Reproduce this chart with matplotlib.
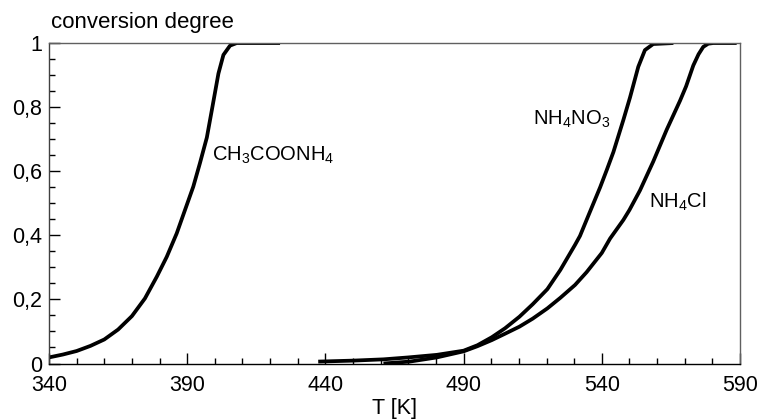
import numpy as np
import matplotlib
matplotlib.use("Agg")
import matplotlib.pyplot as plt
from matplotlib.ticker import MultipleLocator

plt.rcParams['font.family'] = ['Liberation Sans', 'DejaVu Sans']
plt.rcParams['mathtext.fontset'] = 'custom'
plt.rcParams['mathtext.rm'] = 'Liberation Sans'

# CH3COONH4 curve
t_ac = [340, 345, 350, 355, 360, 365, 370, 374.7, 379, 382.6, 386.2, 389.2, 392.2, 394.6, 397.1,
        399, 401.3, 403.1, 405.5, 407.9, 415, 423.6]
a_ac = [0.019, 0.028, 0.039, 0.055, 0.075, 0.106, 0.148, 0.203, 0.271, 0.333, 0.406, 0.479, 0.552, 0.625, 0.705,
        0.795, 0.905, 0.963, 0.992, 1.0, 1.0, 1.0]

# NH4NO3
t_no3 = [437.4, 450, 461, 470, 480.3, 490, 495, 500.2, 505, 510.2, 515, 520.3, 525, 530.3, 532.1, 535.5,
         539.4, 541.8, 544.2, 547.8, 550.2, 553.2, 555.6, 558.6, 565.9]
a_no3 = [0.006, 0.009, 0.013, 0.019, 0.027, 0.040, 0.057, 0.082, 0.110, 0.146, 0.185, 0.232, 0.292, 0.370, 0.398, 0.469,
         0.55, 0.604, 0.660, 0.76, 0.83, 0.926, 0.978, 0.997, 1.0]

# NH4Cl
t_cl = [461, 470.5, 480.3, 490, 495, 500.2, 505, 510.2, 515, 520.3, 525, 530.3, 534.5, 540, 543, 547.8, 550,
        553.8, 558.6, 563.5, 568.3, 570.5, 573.1, 575, 576.7, 578.5, 580.3, 588.8]
a_cl = [0.0, 0.006, 0.019, 0.038, 0.054, 0.073, 0.093, 0.115, 0.140, 0.172, 0.205, 0.245, 0.285, 0.345, 0.39, 0.448, 0.479,
        0.54, 0.63, 0.73, 0.82, 0.865, 0.93, 0.965, 0.988, 0.998, 1.0, 1.0]

xticks = [340, 390, 440, 490, 540, 590]
yticks = [0, 0.2, 0.4, 0.6, 0.8, 1]
ylabels = ['0', '0,2', '0,4', '0,6', '0,8', '1']

fig = plt.figure(figsize=(7.61, 4.20), dpi=100)
ax = fig.add_axes([0.0644, 0.1345, 0.908, 0.763])

for t, a in [(t_ac, a_ac), (t_no3, a_no3), (t_cl, a_cl)]:
    ax.plot(t, a, color='black', lw=2.7, solid_capstyle='butt', solid_joinstyle='round')

ax.set_xlim(340, 590)
ax.set_ylim(0, 1)
ax.set_xticks(xticks)
ax.set_xticklabels([str(v) for v in xticks])
ax.set_yticks(yticks)
ax.set_yticklabels(ylabels)
ax.xaxis.set_minor_locator(MultipleLocator(10))
ax.yaxis.set_minor_locator(MultipleLocator(0.05))
ax.tick_params(which='major', direction='in', length=7.7, width=1, labelsize=15.5)
ax.tick_params(which='minor', direction='in', length=4, width=1)
ax.tick_params(axis='x', which='major', pad=8)
ax.tick_params(axis='y', which='major', pad=5)
ax.tick_params(top=False, right=False, which='both')

ax.spines['left'].set_color('#404040')
ax.spines['bottom'].set_color('black')
ax.spines['top'].set_color('#606060')
ax.spines['right'].set_color('#606060')
for s in ax.spines.values():
    s.set_linewidth(1)

ax.set_xlabel('T [K]', fontsize=15.5, labelpad=2)
fig.text(0.067, 0.946, 'conversion degree', fontsize=16, ha='left', va='center')

ax.text(399, 0.651, r'CH$\mathregular{_3}$COONH$\mathregular{_4}$', fontsize=14.5, va='center')
ax.text(515.2, 0.763, r'NH$\mathregular{_4}$NO$\mathregular{_3}$', fontsize=14.5, va='center')
ax.text(557.2, 0.506, r'NH$\mathregular{_4}$Cl', fontsize=14.5, va='center')

fig.savefig('out.png', dpi=100)
